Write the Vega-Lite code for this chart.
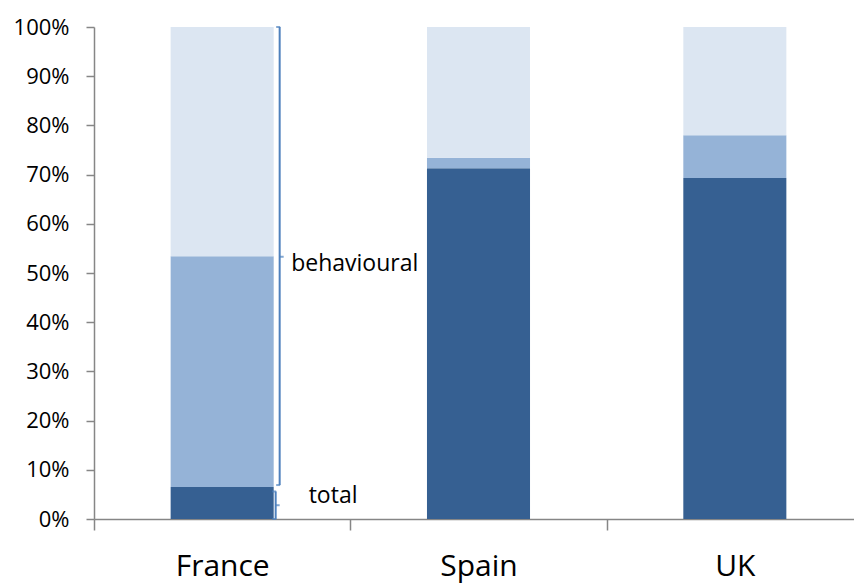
{
  "$schema": "https://vega.github.io/schema/vega-lite/v6.json",
  "width": 760,
  "height": 492,
  "autosize": {"type": "none"},
  "padding": {"left": 94, "top": 27, "right": 0, "bottom": 65},
  "background": "white",
  "config": {
    "view": {"stroke": null},
    "font": "Open Sans"
  },
  "datasets": {
    "shares": [
      {"country": "France", "segment": "lower", "rank": 1, "value": 6.5},
      {"country": "France", "segment": "middle", "rank": 2, "value": 46.9},
      {"country": "France", "segment": "upper", "rank": 3, "value": 46.6},
      {"country": "Spain", "segment": "lower", "rank": 1, "value": 71.3},
      {"country": "Spain", "segment": "middle", "rank": 2, "value": 2.1},
      {"country": "Spain", "segment": "upper", "rank": 3, "value": 26.6},
      {"country": "UK", "segment": "lower", "rank": 1, "value": 69.3},
      {"country": "UK", "segment": "middle", "rank": 2, "value": 8.7},
      {"country": "UK", "segment": "upper", "rank": 3, "value": 22.0}
    ],
    "braces": [
      {"country": "France", "brace": "behavioural", "lo": 6.9, "hi": 100, "tip": 53.3},
      {"country": "France", "brace": "total", "lo": 0, "hi": 5.6, "tip": 2.8}
    ]
  },
  "encoding": {
    "x": {
      "field": "country",
      "type": "nominal",
      "sort": ["France", "Spain", "UK"],
      "scale": {"domain": ["France", "Spain", "UK"], "range": [0, 769], "paddingInner": 0, "paddingOuter": 0},
      "axis": {
        "title": null,
        "labelAngle": 0,
        "labelFont": "Open Sans",
        "labelFontSize": 30,
        "labelColor": "#000000",
        "labelPadding": 21,
        "tickBand": "extent",
        "tickSize": 11,
        "tickColor": "#868686",
        "tickWidth": 1.5,
        "domainColor": "#868686",
        "domainWidth": 1.5
      }
    }
  },
  "layer": [
    {
      "data": {"name": "shares"},
      "mark": {"type": "bar", "width": {"band": 0.402}},
      "encoding": {
        "y": {
          "field": "value",
          "type": "quantitative",
          "stack": "zero",
          "scale": {"domain": [0, 100], "nice": false},
          "axis": {
            "title": null,
            "values": [0, 10, 20, 30, 40, 50, 60, 70, 80, 90, 100],
            "labelExpr": "datum.value + '%'",
            "labelFont": "Open Sans",
            "labelFontSize": 22,
            "labelColor": "#000000",
            "labelPadding": 17,
            "tickSize": 8,
            "tickColor": "#868686",
            "tickWidth": 1.5,
            "domainColor": "#868686",
            "domainWidth": 1.5,
            "grid": false
          }
        },
        "color": {
          "field": "segment",
          "type": "nominal",
          "scale": {"domain": ["lower", "middle", "upper"], "range": ["#366092", "#95B3D7", "#DCE6F2"]},
          "legend": null
        },
        "order": {"field": "rank", "type": "quantitative"}
      }
    },
    {
      "data": {"name": "braces"},
      "transform": [{"filter": "datum.brace === 'behavioural'"}],
      "layer": [
        {
          "mark": {"type": "rule", "color": "#4F81BD", "strokeWidth": 2, "xOffset": 57.5},
          "encoding": {
            "y": {"field": "lo", "type": "quantitative"},
            "y2": {"field": "hi"}
          }
        },
        {
          "mark": {"type": "tick", "color": "#4F81BD", "thickness": 2, "size": 4, "xOffset": 56},
          "encoding": {"y": {"field": "hi", "type": "quantitative"}}
        },
        {
          "mark": {"type": "tick", "color": "#4F81BD", "thickness": 2, "size": 4, "xOffset": 56},
          "encoding": {"y": {"field": "lo", "type": "quantitative"}}
        },
        {
          "mark": {"type": "tick", "color": "#4F81BD", "thickness": 2, "size": 4, "xOffset": 59.5},
          "encoding": {"y": {"field": "tip", "type": "quantitative"}}
        },
        {
          "mark": {"type": "text", "align": "left", "baseline": "alphabetic", "font": "Open Sans", "fontSize": 23, "color": "#000000", "xOffset": 69, "dy": 14},
          "encoding": {
            "y": {"field": "tip", "type": "quantitative"},
            "text": {"field": "brace"}
          }
        }
      ]
    },
    {
      "data": {"name": "braces"},
      "transform": [{"filter": "datum.brace === 'total'"}],
      "layer": [
        {
          "mark": {"type": "rule", "color": "#4F81BD", "strokeWidth": 2, "xOffset": 53.5},
          "encoding": {
            "y": {"field": "lo", "type": "quantitative"},
            "y2": {"field": "hi"}
          }
        },
        {
          "mark": {"type": "tick", "color": "#4F81BD", "thickness": 2, "size": 4, "xOffset": 52},
          "encoding": {"y": {"field": "hi", "type": "quantitative"}}
        },
        {
          "mark": {"type": "tick", "color": "#4F81BD", "thickness": 2, "size": 4, "xOffset": 52},
          "encoding": {"y": {"field": "lo", "type": "quantitative"}}
        },
        {
          "mark": {"type": "tick", "color": "#4F81BD", "thickness": 2, "size": 4, "xOffset": 55.5},
          "encoding": {"y": {"field": "tip", "type": "quantitative"}}
        },
        {
          "mark": {"type": "text", "align": "left", "baseline": "alphabetic", "font": "Open Sans", "fontSize": 23, "color": "#000000", "xOffset": 86.5, "dy": -2},
          "encoding": {
            "y": {"field": "tip", "type": "quantitative"},
            "text": {"field": "brace"}
          }
        }
      ]
    }
  ]
}
